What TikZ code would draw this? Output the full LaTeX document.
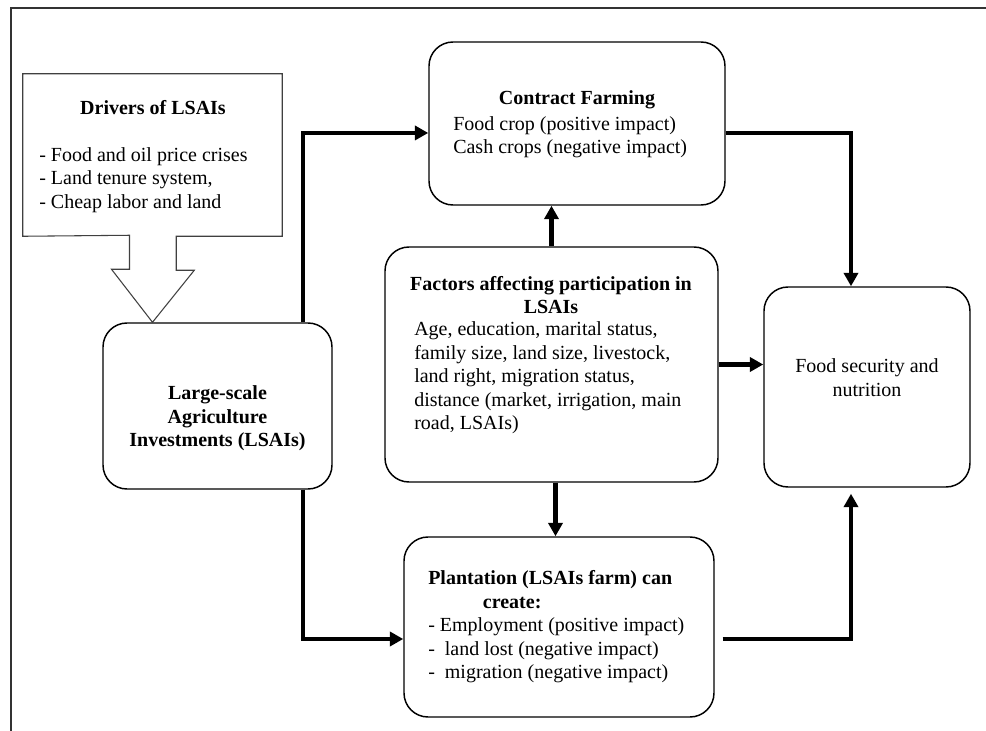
\documentclass[tikz,border=0pt]{standalone}
\usepackage{fontspec}
\setmainfont{Liberation Serif}
\usetikzlibrary{arrows.meta}
\begin{document}
\begin{tikzpicture}[x=0.75pt, y=-0.75pt, font=\fontsize{15pt}{17.6pt}\selectfont, line join=miter, >={Triangle[width=10.5pt,length=10pt]},
	box/.style={draw, line width=1.1pt, rounded corners=18pt},
	txt/.style={inner sep=0pt},
	bold/.style={inner sep=0pt, font=\fontsize{15pt}{17.6pt}\selectfont\bfseries},
	link/.style={->, line width=3.3pt}]
	\useasboundingbox (0,0) rectangle (986,731);
	\draw[line width=1.1pt, black!80] (11,731)--(11,8)--(986,8);
	% boxes
	\node[minimum width=194.25pt, minimum height=121.5pt] (drivers) at (152.5,155) {};
	\node[box, minimum width=171.75pt, minimum height=124.5pt] (lsai) at (217.5,406) {};
	\node[box, minimum width=222pt, minimum height=122.25pt] (cfarm) at (577,123.5) {};
	\node[box, minimum width=249.75pt, minimum height=176.25pt] (factors) at (551.5,364.5) {};
	\node[box, minimum width=154.5pt, minimum height=150pt] (food) at (867,387) {};
	\node[box, minimum width=232.5pt, minimum height=135pt] (plant) at (559,627) {};
	% drivers box and its block arrow
	\draw[line width=0.8pt, black!75] (drivers.south west) -- (drivers.north west) -- (drivers.north east) -- (drivers.south east)
		-- ++(-106,0) -- ++(0,34) -- ++(18,0) -- (lsai.north -| drivers.south) -- ++(-41,-53) -- ++(18,0) -- ++(0,-34) -- cycle;
	% texts
	\node[bold] (drvhead) at (153,108) {Drivers of LSAIs};
	\node[txt, anchor=west, align=left] (drvlist) at (39,180) {- Food and oil price crises\\- Land tenure system,\\- Cheap labor and land};
	\node[bold, align=center] (lsaitxt) at (217.5,418.5) {Large-scale\\Agriculture\\Investments (LSAIs)};
	\node[bold] (cfarmhead) at (577,100) {Contract Farming};
	\node[txt, anchor=west, align=left] (cfarmlist) at (453,137) {Food crop (positive impact)\\Cash crops (negative impact)};
	\node[bold, align=center] (facthead) at (551,295) {Factors affecting participation in\\LSAIs};
	\node[txt, anchor=west, align=left] (factlist) at (414,378) {Age, education, marital status,\\family size, land size, livestock,\\land right, migration status,\\distance (market, irrigation, main\\road, LSAIs)};
	\node[txt, align=center] (foodtxt) at (867,377.5) {Food security and\\nutrition};
	\node[txt, anchor=west, align=left] (planttxt) at (428,627) {\textbf{Plantation (LSAIs farm) can}\\\hspace*{41pt}\textbf{create:}\\- Employment (positive impact)\\-~ land lost (negative impact)\\-~ migration (negative impact)};
	% connectors
	\draw[link] ([xshift=64.1pt]lsai.north) |- ([yshift=-7.1pt]cfarm.west);
	\draw[link] ([xshift=64.1pt]lsai.south) |- ([yshift=-9pt]plant.west);
	\draw[link] (factors.north) -- (factors.north |- cfarm.south);
	\draw[link] ([xshift=3pt]factors.south) -- ([xshift=3pt]factors.south |- plant.north);
	\draw[link] (factors.east) -- (factors.east -| food.west);
	\draw[link] ([yshift=-7.1pt]cfarm.east) -| ([xshift=-12pt]food.north);
	\draw[link] ([yshift=-9pt, xshift=6pt]plant.east) -| ([xshift=-12pt, yshift=-4.5pt]food.south);
\end{tikzpicture}
\end{document}
